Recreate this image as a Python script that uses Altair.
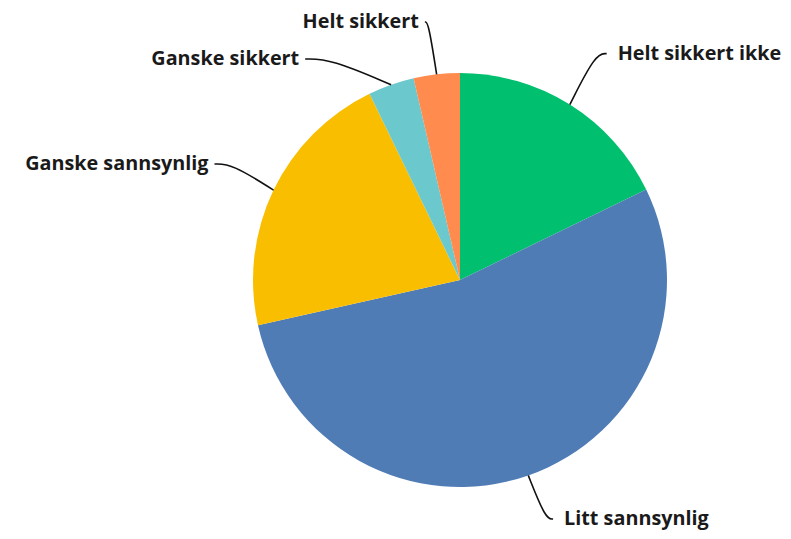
import math
import altair as alt
import pandas as pd

labels = ["Helt sikkert ikke", "Litt sannsynlig", "Ganske sannsynlig", "Ganske sikkert", "Helt sikkert"]
values = [17.8, 53.7, 21.3, 3.6, 3.6]
colors = ["#00BF6F", "#507CB6", "#F9BE00", "#6BC8CD", "#FF8B4F"]

W, H = 775, 523
CX, CY, R = 452, 272, 207
RL = 267          # label radius
GAP = 37          # minimum vertical spacing of labels
CROOK = 0.3       # connector crook position (fraction from label end)
NUDGE = 5

total = float(sum(values))
mids = []
cum = 0.0
for v in values:
    a0 = cum / total * 2 * math.pi
    cum += v
    a1 = cum / total * 2 * math.pi
    mids.append((a0 + a1) / 2)

anchors = []
for lab, a in zip(labels, mids):
    side = 1 if math.sin(a) >= 0 else -1
    x = CX + RL * math.sin(a)
    y = CY - RL * math.cos(a)
    anchors.append({"label": lab, "a": a, "side": side, "x": x, "y": y})

for side in (1, -1):
    grp = sorted([p for p in anchors if p["side"] == side], key=lambda p: p["y"])
    prev = None
    for p in grp:
        p["y"] = min(max(p["y"], 14), H - 12)
        if prev is not None and p["y"] < prev["y"] + GAP:
            p["y"] = prev["y"] + GAP
            dy = p["y"] - CY
            if abs(dy) < RL:
                p["x"] = CX + side * math.sqrt(RL ** 2 - dy ** 2)
        prev = p

line_rows = []
text_rows = []
for p in anchors:
    a = p["a"]
    rx = CX + R * math.sin(a)
    ry = CY - R * math.cos(a)
    ex, ey = p["x"] + p["side"] * NUDGE, p["y"]
    kx = ex + (rx - ex) * CROOK
    pts = [(rx, ry), (kx, ey), (ex, ey)]
    for i, (px, py) in enumerate(pts):
        line_rows.append({"label": p["label"], "idx": i, "x": px, "y": py})
    text_rows.append({
        "label": p["label"],
        "tx": ex + (11 if p["side"] == 1 else -6),
        "ty": ey,
        "side": "right" if p["side"] == 1 else "left",
    })

pie_df = pd.DataFrame({"label": labels, "value": values, "order": list(range(len(labels)))})
line_df = pd.DataFrame(line_rows)
text_df = pd.DataFrame(text_rows)

pie = alt.Chart(pie_df).mark_arc(outerRadius=R).encode(
    theta=alt.Theta("value:Q", stack=True),
    color=alt.Color("label:N", scale=alt.Scale(domain=labels, range=colors), legend=None),
    order=alt.Order("order:Q"),
    x=alt.value(CX),
    y=alt.value(CY),
)

lines = alt.Chart(line_df).mark_line(interpolate="basis", color="#111111", strokeWidth=1.6).encode(
    x=alt.X("x:Q", scale=None, axis=None),
    y=alt.Y("y:Q", scale=None, axis=None),
    detail="label:N",
    order="idx:Q",
)

font = "Open Sans"
fs = 19.8
txt_r = alt.Chart(text_df).transform_filter(alt.datum.side == "right").mark_text(
    align="left", baseline="middle", font=font, fontSize=fs, fontWeight="bold", color="#1a1a1a"
).encode(
    x=alt.X("tx:Q", scale=None, axis=None),
    y=alt.Y("ty:Q", scale=None, axis=None),
    text="label:N",
)
txt_l = alt.Chart(text_df).transform_filter(alt.datum.side == "left").mark_text(
    align="right", baseline="middle", font=font, fontSize=fs, fontWeight="bold", color="#1a1a1a"
).encode(
    x=alt.X("tx:Q", scale=None, axis=None),
    y=alt.Y("ty:Q", scale=None, axis=None),
    text="label:N",
)

chart = alt.layer(pie, lines, txt_r, txt_l).properties(
    width=W, height=H, padding=0, autosize=alt.AutoSizeParams(type="none"),
    background="white",
).configure_view(stroke=None)

chart.save("out.html", embed_options={"renderer": "svg", "actions": False})
